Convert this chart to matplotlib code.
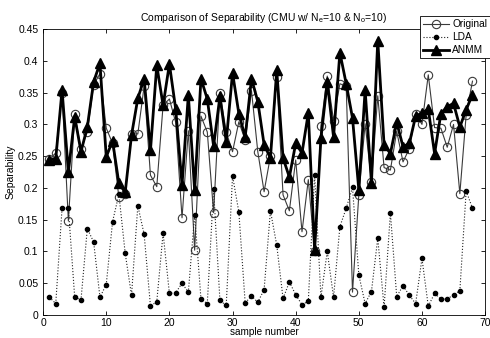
import numpy as np
import matplotlib.pyplot as plt

plt.rcParams['font.family'] = ['Liberation Sans', 'DejaVu Sans']

samples = np.arange(1, 69)

original = [0.245, 0.255, 0.35, 0.148, 0.316, 0.261, 0.288, 0.362, 0.38, 0.294,
            0.27, 0.185, 0.19, 0.285, 0.285, 0.36, 0.22, 0.202, 0.33, 0.34,
            0.303, 0.153, 0.29, 0.102, 0.313, 0.288, 0.161, 0.35, 0.288, 0.257,
            0.304, 0.275, 0.353, 0.257, 0.194, 0.25, 0.375, 0.189, 0.164, 0.244,
            0.131, 0.213, 0.1, 0.298, 0.376, 0.306, 0.364, 0.36, 0.036, 0.189,
            0.301, 0.21, 0.345, 0.232, 0.228, 0.289, 0.241, 0.262, 0.317, 0.3,
            0.378, 0.295, 0.294, 0.264, 0.3, 0.191, 0.315, 0.368]

lda = [0.028, 0.018, 0.168, 0.168, 0.028, 0.024, 0.136, 0.115, 0.028, 0.048,
       0.147, 0.19, 0.097, 0.031, 0.172, 0.127, 0.014, 0.021, 0.129, 0.034,
       0.035, 0.05, 0.036, 0.158, 0.025, 0.018, 0.198, 0.023, 0.015, 0.219,
       0.162, 0.019, 0.03, 0.02, 0.04, 0.164, 0.11, 0.026, 0.052, 0.032,
       0.016, 0.022, 0.221, 0.028, 0.1, 0.028, 0.139, 0.168, 0.201, 0.063,
       0.018, 0.037, 0.121, 0.012, 0.161, 0.029, 0.046, 0.031, 0.018, 0.089,
       0.014, 0.034, 0.025, 0.025, 0.032, 0.038, 0.195, 0.168]

anmm = [0.244, 0.246, 0.354, 0.225, 0.312, 0.257, 0.296, 0.367, 0.396, 0.249,
        0.274, 0.207, 0.193, 0.283, 0.341, 0.372, 0.259, 0.393, 0.33, 0.395,
        0.324, 0.205, 0.346, 0.196, 0.372, 0.34, 0.266, 0.344, 0.273, 0.381,
        0.317, 0.28, 0.372, 0.336, 0.268, 0.247, 0.385, 0.247, 0.217, 0.27,
        0.255, 0.318, 0.102, 0.278, 0.367, 0.28, 0.413, 0.364, 0.31, 0.197,
        0.354, 0.208, 0.432, 0.268, 0.254, 0.303, 0.265, 0.27, 0.313, 0.318,
        0.324, 0.254, 0.317, 0.328, 0.333, 0.296, 0.323, 0.347]

xticks = [0, 10, 20, 30, 40, 50, 60, 70]
yticks = [0, 0.05, 0.1, 0.15, 0.2, 0.25, 0.3, 0.35, 0.4, 0.45]
ylabels = ['0', '0.05', '0.1', '0.15', '0.2', '0.25', '0.3', '0.35', '0.4', '0.45']

fig = plt.figure(figsize=(4.9, 3.38), dpi=100)
ax = fig.add_axes([0.088, 0.068, 0.902, 0.846])

ax.plot(samples, original, '-', color='#3a3a3a', lw=0.8, marker='o', ms=6,
        mfc='none', mec='#3a3a3a', mew=0.8, label='Original')
ax.plot(samples, lda, ':', color='#222222', lw=0.8, marker='o', ms=3,
        mfc='black', mec='black', label='LDA')
ax.plot(samples, anmm, '-', color='black', lw=2, marker='^', ms=7,
        mfc='black', mec='black', label='ANMM')

ax.set_xlim(0, 70)
ax.set_ylim(0, 0.45)
ax.set_xticks(xticks)
ax.set_yticks(yticks)
ax.set_yticklabels(ylabels)
ax.tick_params(direction='in', top=True, right=True, labelsize=7.5, length=3, width=0.6)
ax.tick_params(axis='x', pad=2)
for s in ax.spines.values():
    s.set_linewidth(0.6)

ax.set_title('Comparison of Separability (CMU w/ N$_\\mathregular{e}$=10 & N$_\\mathregular{o}$=10)',
             fontsize=7.5, pad=6)
ax.set_xlabel('sample number', fontsize=7.2, labelpad=-0.5)
ax.set_ylabel('Separability', fontsize=7.5, labelpad=2)

leg = fig.legend(loc='upper left', bbox_to_anchor=(0.857, 0.952), fontsize=7.3,
                 frameon=True, fancybox=False, edgecolor='black', framealpha=1,
                 handlelength=2.6, borderpad=0.3, labelspacing=0.3, handletextpad=0.3,
                 borderaxespad=0)
leg.get_frame().set_linewidth(0.6)

fig.savefig('out.png', dpi=100)
